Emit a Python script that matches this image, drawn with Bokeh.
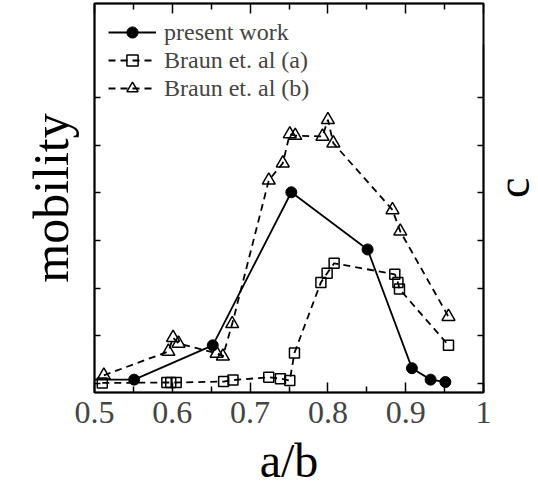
from math import pi
from bokeh.plotting import figure
from bokeh.models import LinearAxis, FixedTicker, Range1d, Legend, LegendItem
from bokeh.embed import file_html
from bokeh.resources import INLINE

# ---- data ----
present_x = [0.48, 0.551, 0.652, 0.753, 0.851, 0.908, 0.932, 0.951]
present_y = [0.08, 0.08, 0.80, 4.01, 2.81, 0.32, 0.08, 0.03]

braun_a_x = [0.510, 0.593, 0.598, 0.605, 0.666, 0.678, 0.724, 0.739, 0.751,
             0.757, 0.791, 0.799, 0.808, 0.886, 0.890, 0.892, 0.955]
braun_a_y = [0.01, 0.02, 0.02, 0.02, 0.04, 0.07, 0.13, 0.10, 0.06,
             0.64, 2.12, 2.31, 2.52, 2.29, 2.12, 1.98, 0.80]

braun_b_x = [0.512, 0.595, 0.601, 0.608, 0.657, 0.665, 0.677, 0.724, 0.742,
             0.751, 0.758, 0.793, 0.800, 0.807, 0.883, 0.893, 0.955]
braun_b_y = [0.17, 0.67, 0.96, 0.84, 0.63, 0.57, 1.25, 4.26, 4.62,
             5.23, 5.20, 5.18, 5.53, 5.04, 3.64, 3.19, 1.40]

series_labels = ["present work", "Braun et. al (a)", "Braun et. al (b)"]

x_ticks = [0.5, 0.6, 0.7, 0.8, 0.9, 1]
x_tick_labels = ["0.5", "0.6", "0.7", "0.8", "0.9", "1"]
x_minor = [0.55, 0.65, 0.75, 0.85, 0.95]
y_ticks = [0, 1, 2, 3, 4, 5, 6]

FONT = "Liberation Serif"

p = figure(frame_width=389, frame_height=389,
           min_border_left=94, min_border_right=55,
           min_border_top=3, min_border_bottom=90,
           x_range=Range1d(0.5, 1.0), y_range=Range1d(-0.19, 7.97),
           output_backend="svg", toolbar_location=None,
           x_axis_label="a/b", y_axis_label="mobility")
p.grid.visible = False
p.outline_line_color = "black"
p.outline_line_width = 2
p.background_fill_color = "white"
p.border_fill_color = "white"

bottom = p.below[0]
left = p.left[0]

overrides = {t: s for t, s in zip(x_ticks, x_tick_labels)}

def style_x(ax, labels=True):
    ax.ticker = FixedTicker(ticks=x_ticks, minor_ticks=x_minor)
    ax.major_tick_in = 10
    ax.major_tick_out = 0
    ax.minor_tick_in = 6
    ax.minor_tick_out = 0
    ax.major_tick_line_width = 1.5
    ax.minor_tick_line_width = 1.5
    ax.axis_line_width = 1.5
    if labels:
        ax.major_label_overrides = overrides
        ax.major_label_text_font = FONT
        ax.major_label_text_font_size = "32px"
        ax.major_label_standoff = 9
    else:
        ax.major_label_text_font_size = "0px"
        ax.major_label_standoff = 0

def style_y(ax):
    ax.ticker = FixedTicker(ticks=y_ticks, minor_ticks=[])
    ax.major_tick_in = 6
    ax.major_tick_out = 0
    ax.major_tick_line_width = 1.5
    ax.minor_tick_line_color = None
    ax.axis_line_width = 1.5
    ax.major_label_text_font_size = "0px"
    ax.major_label_standoff = 0

style_x(bottom)
style_y(left)

top = LinearAxis()
style_x(top, labels=False)
p.add_layout(top, "above")
right = LinearAxis(axis_label="c", bounds=(-0.19, 7.11))
style_y(right)
if hasattr(right, "axis_label_orientation"):
    right.axis_label_orientation = pi / 2
p.add_layout(right, "right")

for ax in (bottom, left, right):
    ax.axis_label_text_font = FONT
    ax.axis_label_text_font_style = "normal"
    ax.axis_label_text_color = "black"
bottom.axis_label_text_font_size = "48px"
left.axis_label_text_font_size = "50px"
right.axis_label_text_font_size = "46px"
bottom.axis_label_standoff = 8
left.axis_label_standoff = 16
right.axis_label_standoff = 30

# series
l1 = p.line(present_x, present_y, line_color="black", line_width=1.8)
s1 = p.scatter(present_x, present_y, marker="circle", size=11,
               fill_color="black", line_color="black")
l2 = p.line(braun_a_x, braun_a_y, line_color="black", line_width=1.8, line_dash="7 5")
s2 = p.scatter(braun_a_x, braun_a_y, marker="square", size=10,
               fill_color=None, line_color="black", line_width=1.5)
l3 = p.line(braun_b_x, braun_b_y, line_color="black", line_width=1.8, line_dash="7 5")
s3 = p.scatter(braun_b_x, braun_b_y, marker="triangle", size=13,
               fill_color=None, line_color="black", line_width=1.5)

legend = Legend(items=[LegendItem(label=series_labels[0], renderers=[l1, s1]),
                       LegendItem(label=series_labels[1], renderers=[l2, s2]),
                       LegendItem(label=series_labels[2], renderers=[l3, s3])],
                location=(14, 290), margin=0, padding=4, spacing=0,
                label_height=28, glyph_height=28, glyph_width=48,
                label_standoff=8, label_text_font=FONT,
                label_text_font_size="24px",
                border_line_color=None, background_fill_alpha=0)
p.add_layout(legend, "center")

open("out.html", "w").write(file_html(p, INLINE))
